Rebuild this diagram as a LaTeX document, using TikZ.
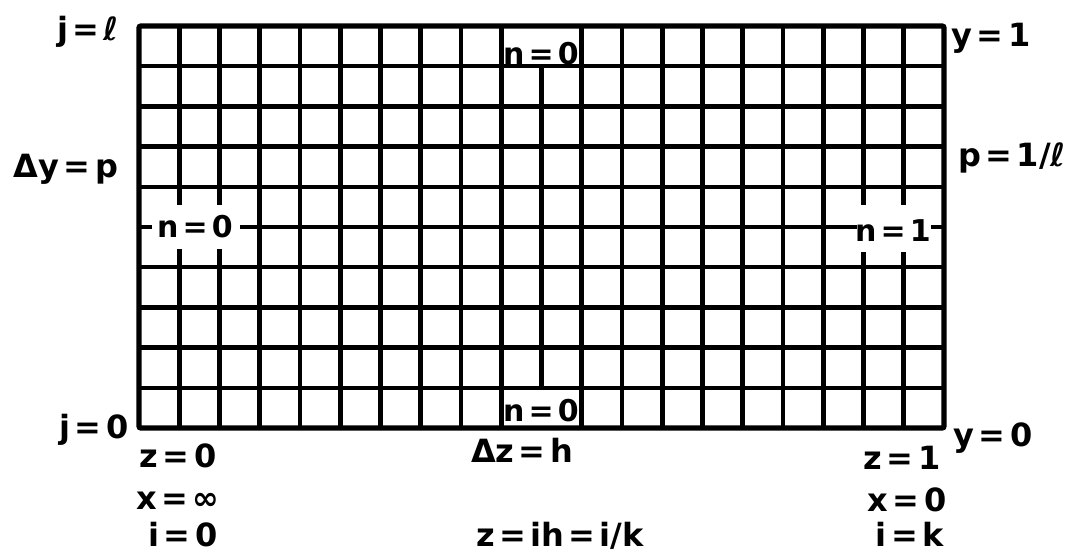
\documentclass[tikz,border=0pt]{standalone}
\usepackage{fontspec}
\setmainfont{DejaVu Sans}
\newcommand\eqs{\hspace{0.14em}=\hspace{0.14em}}
\begin{document}
\begin{tikzpicture}[x=0.75pt,y=-0.75pt,
  lbl/.style={font=\fontsize{24}{28}\selectfont\bfseries, inner sep=0pt, anchor=base},
  nlbl/.style={font=\fontsize{22.5}{26}\selectfont\bfseries, inner sep=0pt, anchor=base},
  gridline/.style={line width=3.4pt},
  border/.style={line width=4pt, rounded corners=1.5pt}]
\useasboundingbox (0,0) rectangle (1075,554);
% grid
\foreach \i in {1,...,19} \draw[gridline] ({139+\i*40.25},26) -- ({139+\i*40.25},428);
\foreach \j in {1,...,9} \draw[gridline] (139,{26+\j*40.2}) -- (944,{26+\j*40.2});
% erased parts under the boundary labels
\fill[white] (503.6,27) rectangle (579.4,63.8);
\fill[white] (503.6,390.2) rectangle (579.4,427);
\fill[white] (152,205) rectangle (240,249);
\fill[white] (857,205) rectangle (931,252);
\draw[border] (139,26) rectangle (944,428);
% boundary labels
\node[nlbl] (ntop) at (541,64) {n\eqs 0};
\node[nlbl] (nbot) at (541,421) {n\eqs 0};
\node[nlbl] (nleft) at (195,237) {n\eqs 0};
\node[nlbl] (nright) at (893,241) {n\eqs 1};
% left labels
\node[lbl] (jl) at (88,40) {j\eqs ℓ};
\node[lbl] (dy) at (66,177) {Δy\eqs p};
\node[lbl] (j0) at (94,438) {j\eqs 0};
% bottom left
\node[lbl] (z0) at (178,467) {z\eqs 0};
\node[lbl] (xinf) at (178,509) {x\eqs ∞};
\node[lbl] (i0) at (183,546) {i\eqs 0};
% bottom middle
\node[lbl] (dz) at (522,462) {Δz\eqs h};
\node[lbl] (zih) at (560,546) {z\eqs ih\eqs i/k};
% bottom right
\node[lbl] (z1) at (902,469) {z\eqs 1};
\node[lbl] (x0) at (907,511) {x\eqs 0};
\node[lbl] (ik) at (910,546) {i\eqs k};
% right labels
\node[lbl] (y0) at (993,446) {y\eqs 0};
\node[lbl] (y1) at (991,46) {y\eqs 1};
\node[lbl] (pl) at (1012,166) {p\eqs 1/ℓ};
\end{tikzpicture}
\end{document}
